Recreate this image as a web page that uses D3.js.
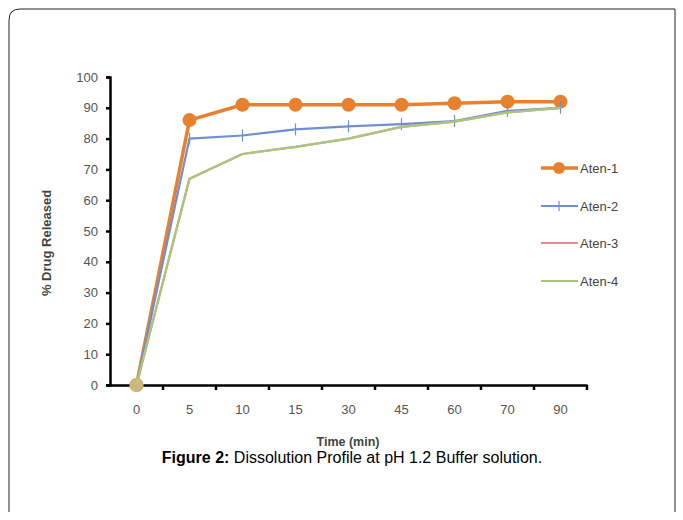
<!DOCTYPE html>
<html><head><meta charset="utf-8">
<script src="https://cdn.jsdelivr.net/npm/d3@7"></script>
<style>body{margin:0;background:#fff}svg{display:block}</style>
</head><body>
<svg id="c" width="683" height="520"></svg>
<script>
const categories = ["0","5","10","15","30","45","60","70","90"];
const aten1 = [0, 86, 91, 91, 91, 91, 91.5, 92, 92];
const aten2 = [0, 80, 81, 83, 84, 84.7, 85.7, 89, 90];
const aten3 = [0, 67, 75, 77.3, 80, 83.8, 85.5, 88.5, 90];
const aten4 = [0, 67, 75, 77.3, 80, 83.8, 85.5, 88.5, 90];
const yTicks = [0,10,20,30,40,50,60,70,80,90,100];
const seriesNames = ["Aten-1","Aten-2","Aten-3","Aten-4"];
const seriesColors = ["#E8812F","#6F8FD0","#E48A9E","#A9C77A"];

const svg = d3.select("#c");
// frame
svg.append("path").attr("d","M9,512 V20 Q9,9 20,9 H675 V512")
  .attr("fill","none").attr("stroke","#222").attr("stroke-width",1);

const x = d3.scaleBand().domain(categories).range([110,587]);
const y = d3.scaleLinear().domain([0,100]).range([385,77]);
const font = "'Liberation Sans', Arial, sans-serif";

// y axis
const ya = svg.append("g").attr("transform","translate(110,0)")
  .call(d3.axisLeft(y).tickValues(yTicks).tickSize(4).tickPadding(8));
ya.select(".domain").attr("stroke","#000").attr("stroke-width",2.5);
ya.selectAll(".tick line").attr("stroke","#000").attr("stroke-width",2.5);
ya.selectAll(".tick text").attr("font-family",font).attr("font-size",13).attr("fill","#555");

// x axis
const xa = svg.append("g").attr("transform","translate(0,385)")
  .call(d3.axisBottom(x).tickSize(0).tickPadding(20));
xa.select(".domain").attr("stroke","#000").attr("stroke-width",2.5);
xa.selectAll(".tick text").attr("font-family",font).attr("font-size",13).attr("fill","#555");
// x tick marks at band boundaries
xa.selectAll(".bnd").data(categories).enter().append("line")
  .attr("x1",d=>x(d)+x.bandwidth()).attr("x2",d=>x(d)+x.bandwidth())
  .attr("y1",0).attr("y2",5).attr("stroke","#000").attr("stroke-width",2.5);

// axis titles
svg.append("text").attr("x",348).attr("y",446).attr("text-anchor","middle")
  .attr("font-family",font).attr("font-size",12.5).attr("font-weight","bold").attr("fill","#444")
  .text("Time (min)");
svg.append("text").attr("transform","translate(51,243) rotate(-90)").attr("text-anchor","middle")
  .attr("font-family",font).attr("font-size",13).attr("font-weight","bold").attr("fill","#444")
  .text("% Drug Released");

const cx = d => x(d) + x.bandwidth()/2;
const line = d3.line().x((v,i)=>cx(categories[i])).y(v=>y(v));
const all = [aten1, aten2, aten3, aten4];
const widths = [3.5, 2.2, 2.2, 2.2];

all.forEach((vals, si) => {
  svg.append("path").datum(vals).attr("d", line).attr("fill","none")
    .attr("stroke", seriesColors[si]).attr("stroke-width", widths[si]).attr("stroke-linejoin","round");
  if (si === 0) {
    svg.selectAll(".m1").data(vals).enter().append("circle")
      .attr("cx",(v,i)=>cx(categories[i])).attr("cy",v=>y(v)).attr("r",7)
      .attr("fill",seriesColors[0]);
  } else if (si === 1) {
    svg.selectAll(".m2").data(vals).enter().append("line")
      .attr("x1",(v,i)=>cx(categories[i])).attr("x2",(v,i)=>cx(categories[i]))
      .attr("y1",v=>y(v)-6).attr("y2",v=>y(v)+6)
      .attr("stroke",seriesColors[1]).attr("stroke-width",1.2);
  }
});
// tint of first point
svg.append("circle").attr("cx",cx("0")).attr("cy",y(0)).attr("r",7).attr("fill","#C9C48A").attr("opacity",0.8);

// legend
const legY = [168, 206, 243, 281];
seriesNames.forEach((n,i)=>{
  const g = svg.append("g");
  g.append("line").attr("x1",541).attr("x2",578).attr("y1",legY[i]).attr("y2",legY[i])
    .attr("stroke",seriesColors[i]).attr("stroke-width", i===0?3.5:2);
  if (i===0) g.append("circle").attr("cx",559).attr("cy",legY[i]).attr("r",6).attr("fill",seriesColors[0]);
  if (i===1) g.append("line").attr("x1",559).attr("x2",559).attr("y1",legY[i]-5).attr("y2",legY[i]+5)
    .attr("stroke",seriesColors[1]).attr("stroke-width",1.2);
  g.append("text").attr("x",580).attr("y",legY[i]+4.5).attr("font-family",font).attr("font-size",13)
    .attr("fill","#444").text(n);
});

// caption
const cap = svg.append("text").attr("x",352).attr("y",463).attr("text-anchor","middle")
  .attr("font-family",font).attr("font-size",16).attr("fill","#000");
cap.append("tspan").attr("font-weight","bold").text("Figure 2:");
cap.append("tspan").text(" Dissolution Profile at pH 1.2 Buffer solution.");
</script>
</body></html>
